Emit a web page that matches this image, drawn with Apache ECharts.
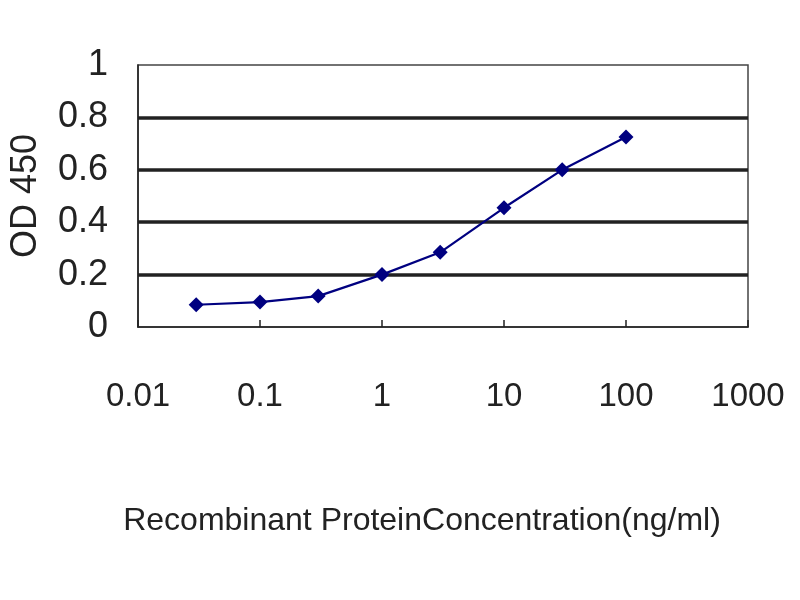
<!DOCTYPE html>
<html>
<head>
<meta charset="utf-8">
<script src="https://cdn.jsdelivr.net/npm/echarts@6/dist/echarts.min.js"></script>
<style>
html,body{margin:0;padding:0;background:#fff;}
#chart{width:800px;height:600px;}
</style>
</head>
<body>
<div id="chart"></div>
<script>
const concentrations = [0.03, 0.1, 0.3, 1, 3, 10, 30, 100];
const odValues = [0.085, 0.095, 0.118, 0.2, 0.285, 0.455, 0.60, 0.725];
const xTitle = 'Recombinant ProteinConcentration(ng/ml)';
const yTitle = 'OD 450';

const chart = echarts.init(document.getElementById('chart'));
const font = 'Liberation Sans, Arial, sans-serif';
chart.setOption({
  animation: false,
  backgroundColor: '#fff',
  grid: {left: 138, right: 52, top: 65, bottom: 273, show: true, borderColor: '#444', borderWidth: 1.5, backgroundColor: '#fff'},
  xAxis: {
    type: 'log', logBase: 10, min: 0.01, max: 1000,
    name: xTitle, nameLocation: 'middle', nameGap: 178,
    nameTextStyle: {fontFamily: font, fontSize: 32, color: '#222', padding: [0, 42, 0, 0]},
    axisLine: {show: true, lineStyle: {color: '#222', width: 1.5}},
    axisTick: {show: true, inside: true, length: 7, lineStyle: {color: '#222', width: 1.5}},
    minorTick: {show: false},
    splitLine: {show: false},
    axisLabel: {fontFamily: font, fontSize: 33, color: '#222', margin: 53,
      formatter: v => String(v)}
  },
  yAxis: {
    type: 'value', min: 0, max: 1, interval: 0.2,
    name: yTitle, nameLocation: 'middle', nameGap: 94,
    nameTextStyle: {fontFamily: font, fontSize: 36, color: '#222'},
    axisLine: {show: true, lineStyle: {color: '#222', width: 1.5}},
    axisTick: {show: false},
    splitLine: {show: true, lineStyle: {color: ['rgba(0,0,0,0)', '#222', '#222', '#222', '#222', 'rgba(0,0,0,0)'], width: 3.5}},
    axisLabel: {fontFamily: font, fontSize: 36, color: '#222', margin: 30}
  },
  series: [{
    type: 'line',
    data: concentrations.map((c, i) => [c, odValues[i]]),
    symbol: 'diamond', symbolSize: 15,
    lineStyle: {color: '#000080', width: 2.2},
    itemStyle: {color: '#000080'}
  }]
});
</script>
</body>
</html>
